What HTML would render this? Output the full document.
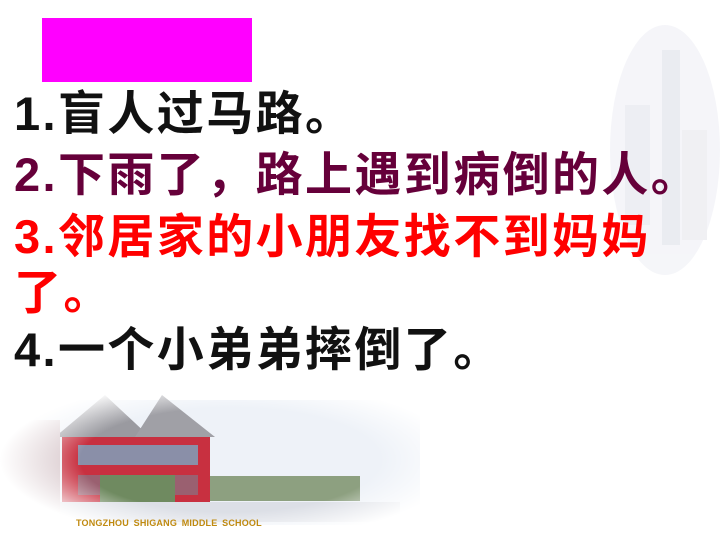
<!DOCTYPE html>
<html><head><meta charset="utf-8"><style>
body{margin:0;width:720px;height:540px;overflow:hidden;background:#fff;position:relative;font-family:"Liberation Sans","Noto Sans CJK SC",sans-serif}
.abs{position:absolute}
.line{position:absolute;left:14px;font-weight:bold;font-size:47px;line-height:50px;white-space:nowrap;letter-spacing:2.4px}
</style></head><body>
<svg class="abs" style="left:0;top:0" width="720" height="540">
<defs>
<radialGradient id="fade" cx="0.5" cy="0.5" r="0.5"><stop offset="0.65" stop-color="#fff" stop-opacity="0"/><stop offset="1" stop-color="#fff" stop-opacity="1"/></radialGradient>
</defs>
<g opacity="0.7">
<ellipse cx="665" cy="150" rx="55" ry="125" fill="#f1f2f7"/>
<rect x="662" y="50" width="18" height="195" fill="#e2e4ec"/>
<rect x="625" y="105" width="25" height="120" fill="#e6e8ef"/>
<rect x="682" y="130" width="25" height="110" fill="#eaeaef"/>
</g>
<g>
<rect x="0" y="400" width="420" height="125" fill="#eef2f8"/>
<polygon points="55,437 105,395 150,437" fill="#9a9aa0"/>
<polygon points="135,437 162,395 215,437" fill="#a0a0a6"/>
<rect x="62" y="437" width="148" height="65" fill="#c83040"/>
<rect x="78" y="445" width="120" height="20" fill="#8a8fa8"/>
<rect x="78" y="475" width="120" height="20" fill="#9a6070"/>
<rect x="100" y="475" width="75" height="28" fill="#6f8a60"/>
<rect x="210" y="476" width="150" height="25" fill="#8da080"/>
<rect x="0" y="420" width="60" height="100" fill="#d8c8cc"/>
<rect x="60" y="502" width="340" height="20" fill="#dcdfe6"/>
<rect x="0" y="380" width="460" height="160" fill="url(#fade)"/>
</g>
</svg>
<div class="abs" style="left:42px;top:18px;width:210px;height:64px;background:#ff00ff"></div>
<div class="line" style="top:89px;color:#111">1.盲人过马路。</div>
<div class="line" style="top:150px;color:#66003a">2.下雨了，路上遇到病倒的人。</div>
<div class="line" style="top:212px;color:#ff0000">3.邻居家的小朋友找不到妈妈</div>
<div class="line" style="top:268px;color:#ff0000">了。</div>
<div class="line" style="top:325px;color:#111">4.一个小弟弟摔倒了。</div>
<div class="abs" style="left:76px;top:518px;font-size:9px;font-weight:bold;color:#c08a10;letter-spacing:0.2px;word-spacing:2px">TONGZHOU SHIGANG MIDDLE SCHOOL</div>
</body></html>
